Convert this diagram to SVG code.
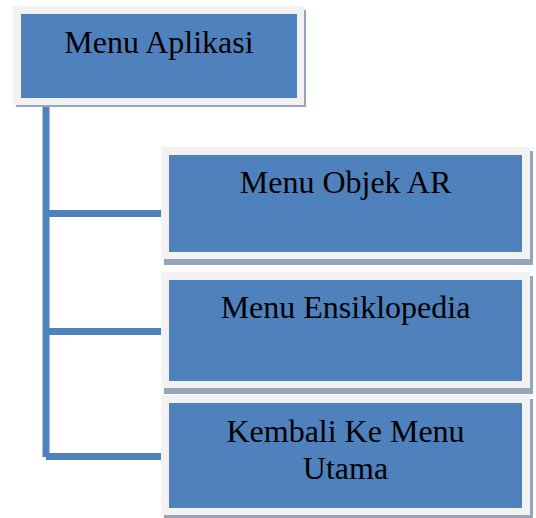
<svg xmlns="http://www.w3.org/2000/svg" width="536" height="518" viewBox="0 0 536 518">
<style>
.sh{fill:#97a5ba}
.out{fill:#f2f2f2}
.in{fill:#4f81bd}
.t{font-family:"Liberation Serif","Times New Roman",serif;font-size:32px;fill:#000;text-anchor:middle}
.c{stroke:#4f81bd;stroke-width:7;fill:none}
</style>
<rect width="536" height="518" fill="#fff"/>
<g id="connectors">
<path class="c" d="M46,106 V457"/>
<path class="c" d="M46,213.5 H165"/>
<path class="c" d="M46,331.5 H167"/>
<path class="c" d="M46,456.5 H165"/>
</g>
<g id="menu-aplikasi">
<rect class="sh" x="16" y="10" width="290" height="97"/>
<rect class="out" x="13" y="6" width="291" height="99"/>
<rect class="in" x="21" y="14" width="276" height="84"/>
<text class="t" x="159" y="53">Menu Aplikasi</text>
</g>
<g id="menu-objek-ar">
<rect class="sh" x="164" y="151" width="369" height="114"/>
<rect class="out" x="161" y="147" width="369" height="112"/>
<rect class="in" x="169" y="155" width="353" height="97"/>
<text class="t" x="345.5" y="193">Menu Objek AR</text>
</g>
<g id="menu-ensiklopedia">
<rect class="sh" x="164" y="276" width="369" height="118"/>
<rect class="out" x="161" y="272" width="369" height="116"/>
<rect class="in" x="169" y="280" width="353" height="101"/>
<text class="t" x="345.5" y="318">Menu Ensiklopedia</text>
</g>
<g id="kembali">
<rect class="sh" x="164" y="399" width="369" height="121"/>
<rect class="out" x="161" y="395" width="369" height="120"/>
<rect class="in" x="169" y="403" width="353" height="105"/>
<text class="t" x="345.5" y="442">Kembali Ke Menu</text>
<text class="t" x="345.5" y="479">Utama</text>
</g>
</svg>
